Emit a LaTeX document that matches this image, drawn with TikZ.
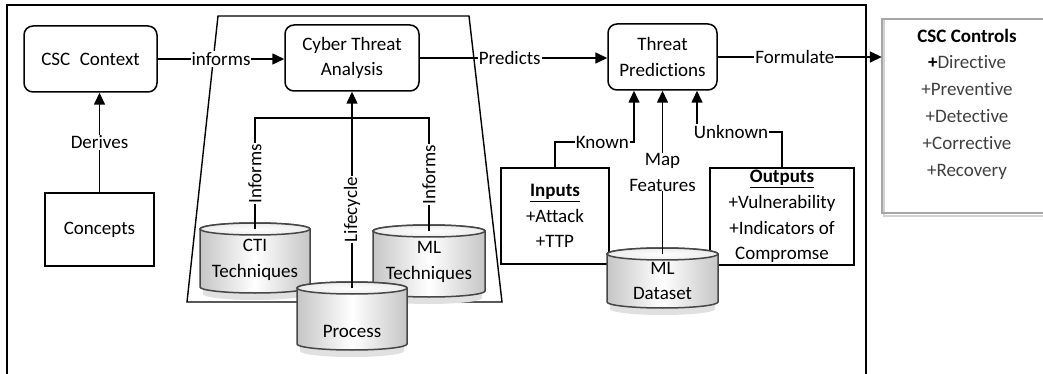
\documentclass[tikz,border=0pt]{standalone}
\usepackage{fontspec}
\setmainfont{Carlito}[RawFeature=-liga]
\usetikzlibrary{arrows.meta,calc}
\newcommand\fs{\fontsize{19}{25.5}\selectfont}
% name, left, right, top, bottom, text y, text
\newcommand\dbcyl[7]{%
  \pgfmathsetmacro\cx{(#2+#3)/2}%
  \pgfmathsetmacro\rx{(#3-#2)/2}%
  \fill[black!12] (#2+3,#5-4) -- (#2+3,#5+1) arc[start angle=180,end angle=360,x radius=\rx pt-3pt,y radius=6pt] -- (#3-3,#5-4) -- cycle;
  \shadedraw[cylbody] (#2,#4+6) -- (#2,#5-6)
     arc[start angle=180,end angle=360,x radius=\rx pt,y radius=6pt]
     -- (#3,#4+6)
     arc[start angle=0,end angle=180,x radius=\rx pt,y radius=6pt] -- cycle;
  \shadedraw[cyltop] (\cx,#4+6) ellipse[x radius=\rx pt,y radius=6pt];
  \coordinate (#1-top) at (\cx,#4+6);
  \node[font=\fs, align=center] (#1) at (\cx,#6) {#7};
}
\begin{document}
\begin{tikzpicture}[x=1pt,y=-1pt,
  rbox/.style={draw, fill=white, rounded corners=9pt, line width=1.5pt, align=center, font=\fs, inner sep=0pt},
  sbox/.style={draw, fill=white, line width=1.5pt, align=center, font=\fs, inner sep=0pt},
  conn/.style={line width=1.6pt},
  arr/.style={conn, -{Triangle[length=12pt,width=11pt]}},
  lbl/.style={fill=white, inner sep=1pt, font=\fs},
  cylbody/.style={draw=gray!55!black, line width=1.5pt, left color=gray!45, right color=gray!45, middle color=white},
  cyltop/.style={draw=gray!55!black, line width=1.5pt, inner color=white, outer color=gray!15},
]
\useasboundingbox (0,0) rectangle (1043,374);
\fill[white] (0,0) rectangle (1043,374);
% outer frame
\draw[line width=1.4pt] (7,374) -- (7,5) -- (866,5) -- (866,374);
% trapezoid
\draw[line width=1.4pt] (187,302) -- (218,16) -- (469,16) -- (502,302) -- cycle;

% boxes
\node[rbox, minimum width=133pt, minimum height=66pt] (ctx) at (90.5,59) {CSC\enspace Context};
\node[sbox, minimum width=109pt, minimum height=73pt] (concepts) at (99.5,229.5) {Concepts};
\node[rbox, minimum width=134pt, minimum height=66pt] (cta) at (352,58) {Cyber Threat\\Analysis};
\node[rbox, minimum width=109pt, minimum height=66pt] (tp) at (662.5,57) {Threat\\Predictions};
\node[sbox, minimum width=108pt, minimum height=96pt] (inputs) at (555,216) {\underline{\textbf{Inputs}}\\+Attack\\+TTP};
\node[sbox, minimum width=144pt, minimum height=97pt, font=\fontsize{19}{25.7}\selectfont] (outputs) at (782,216.5) {\underline{\textbf{Outputs}}\\+Vulnerability\\+Indicators of\\Compromse};
\node[minimum width=161pt, minimum height=194pt, inner sep=0pt] (ctrl) at (962.5,116) {};
\draw[gray!35, line width=2pt] ([xshift=2pt,yshift=-3pt]ctrl.south east) -- ([xshift=2pt,yshift=-3pt]ctrl.south west) -- ([xshift=2pt]ctrl.north west);
\draw[gray!70, line width=2pt] (ctrl.north east) -- (ctrl.north west) -- (ctrl.south west) -- (ctrl.south east);
\node[font=\fontsize{19}{26.8}\selectfont, align=center, text=black!75] (ctrltxt) at (967,104)
  {\textcolor{black}{\textbf{CSC Controls}}\\\textcolor{black}{\textbf{+}}Directive\\+Preventive\\+Detective\\+Corrective\\+Recovery};

% cylinders
\dbcyl{cti}{200}{310}{223}{293}{260}{CTI\\Techniques}
\dbcyl{ml}{373}{485}{225}{297}{262}{ML\\Techniques}
\dbcyl{proc}{297}{407}{282}{350}{331}{Process}
\dbcyl{mld}{607}{718}{248}{308}{281}{ML\\Dataset}

% connectors
\coordinate (hub) at (352,118);
\draw[arr] (concepts.north) -- node[lbl]{Derives} (concepts.north |- ctx.south);
\draw[arr] (ctx.east) -- node[lbl]{informs} (ctx.east -| cta.west);
\draw[arr] (cta.east) -- node[lbl, pos=0.48]{Predicts} (cta.east -| tp.west);
\draw[arr] (tp.east) -- node[lbl, pos=0.47]{Formulate} (tp.east -| ctrl.west);
\draw[conn] (cti-top) -- node[lbl, rotate=90]{Informs} (cti-top |- hub) -- (hub);
\draw[conn] (ml-top) -- node[lbl, rotate=90]{Informs} (ml-top |- hub) -- (hub);
\draw[arr] (proc-top) -- node[lbl, rotate=90, pos=0.4]{Lifecycle} (proc-top |- cta.south);
\coordinate (kn) at (634,142);
\coordinate (un) at (697,132);
\draw[arr] (inputs.north) |- node[lbl, pos=0.8]{Known} (kn) -- (kn |- tp.south);
\draw[arr] (mld-top) -- node[lbl, align=center, inner sep=0pt]{Map\\Features} (mld-top |- tp.south);
\draw[arr] (outputs.north) |- node[lbl, pos=0.8]{Unknown} (un) -- (un |- tp.south);
\end{tikzpicture}
\end{document}
